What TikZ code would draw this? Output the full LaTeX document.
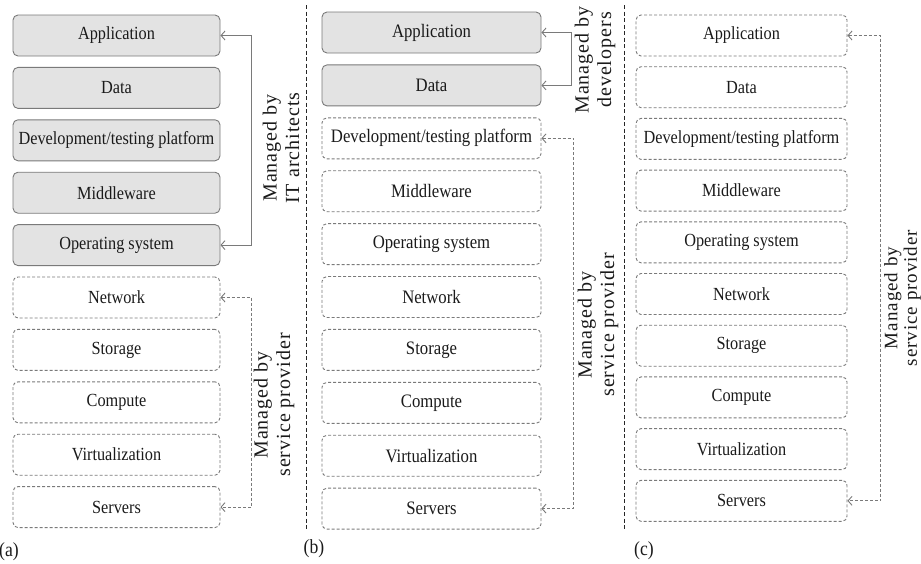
\documentclass[tikz,border=0pt]{standalone}
\usepackage{fontspec}
\setmainfont{Liberation Serif}
\newfontfamily\boxfont[FakeStretch=0.88]{Liberation Serif}
\newfontfamily\lblfont[LetterSpace=5]{Liberation Serif}
\usetikzlibrary{arrows.meta}
\definecolor{boxgray}{HTML}{E3E3E3}
\definecolor{edgegray}{HTML}{7A7A7A}
\definecolor{txt}{HTML}{1A1A1A}
\begin{document}
\begin{tikzpicture}[x=1pt,y=-1pt,
  layer/.style={rectangle, rounded corners=5pt, minimum height=41pt, inner sep=0pt,
    line width=0.9pt, text=txt, font=\boxfont\fontsize{18.5}{21}\selectfont},
  own/.style={layer, draw=edgegray, fill=boxgray},
  prov/.style={layer, draw=edgegray, dash pattern=on 3pt off 2pt},
  conn/.style={draw=edgegray, line width=0.9pt,
    {Straight Barb[length=4pt,width=9pt]}-{Straight Barb[length=4pt,width=9pt]}},
  dconn/.style={conn, dash pattern=on 3pt off 2pt},
  mlabel/.style={rotate=90, align=center, inner sep=0pt, text=txt,
    font=\lblfont\fontsize{20}{22.5}\selectfont},
  sep/.style={draw=black!85, line width=1pt, dash pattern=on 4pt off 2.5pt},
  plabel/.style={text=txt, inner sep=0pt, font=\boxfont\fontsize{20}{22}\selectfont}]
\useasboundingbox (0,0) rectangle (921,563);

% panel (a)
\foreach \t [count=\i] in {Application,Data,{Development/testing platform},Middleware,{Operating system},Network,Storage,Compute,Virtualization,Servers}{
  \pgfmathsetmacro\yy{35.5+(\i-1)*52.4}
  \ifnum\i<6 \tikzset{cur/.style={own}}\else\tikzset{cur/.style={prov}}\fi
  \node[cur, minimum width=207pt] (a\i) at (116.5,\yy) {\t};
}
% panel (b)
\foreach \t [count=\i] in {Application,Data,{Development/testing platform},Middleware,{Operating system},Network,Storage,Compute,Virtualization,Servers}{
  \pgfmathsetmacro\yy{32.5+(\i-1)*52.9}
  \ifnum\i<3 \tikzset{cur/.style={own}}\else\tikzset{cur/.style={prov}}\fi
  \node[cur, minimum width=219pt, font=\boxfont\fontsize{19}{21}\selectfont] (b\i) at (431.5,\yy) {\t};
}
% panel (c)
\foreach \t [count=\i] in {Application,Data,{Development/testing platform},Middleware,{Operating system},Network,Storage,Compute,Virtualization,Servers}{
  \pgfmathsetmacro\yy{35.5+(\i-1)*51.7}
  \node[prov, minimum width=211pt] (c\i) at (741.5,\yy) {\t};
}

% connectors
\draw[conn] (a1.east) -- ++(31,0) |- (a5.east);
\draw[dconn] (a6.east) -- ++(31,0) |- (a10.east);
\draw[conn] (b1.east) -- ++(30,0) |- (b2.east);
\draw[dconn] (b3.east) -- ++(32,0) |- (b10.east);
\draw[dconn] (c1.east) -- ++(33,0) |- (c10.east);

% labels
\node[mlabel] (la1) at (281,148) {Managed by\\IT architects};
\node[mlabel] (la2) at (274,405) {Managed by\\service provider};
\node[mlabel] (lb1) at (595,60) {Managed by\\developers};
\node[mlabel] (lb2) at (598,325) {Managed by\\service provider};
\node[mlabel, font=\lblfont\fontsize{19}{19.5}\selectfont] (lc1) at (902.5,298) {Managed by\\service provider};

% separators
\coordinate (s1t) at (306,5); \coordinate (s1b) at (306,530);
\coordinate (s2t) at (624,5); \coordinate (s2b) at (624,530);
\draw[sep] (s1t) -- (s1b);
\draw[sep] (s2t) -- (s2b);

% panel labels
\node[plabel] (pa) at (9,552) {(a)};
\node[plabel] (pb) at (314,549) {(b)};
\node[plabel] (pc) at (644,551) {(c)};
\end{tikzpicture}
\end{document}
